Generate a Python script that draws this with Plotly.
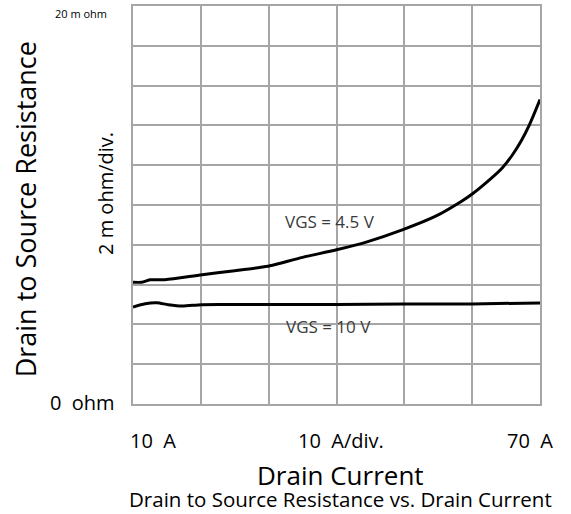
import plotly.graph_objects as go

# Drain current (A) and drain-source resistance (m ohm)
current_45 = [10.0, 11.3, 12.5, 14.7, 20.2, 25.0, 28.4, 30.2, 35.0, 40.0, 44.5, 49.7,
              54.7, 58.5, 60.0, 62.5, 64.4, 65.9, 67.2, 68.4, 70.0]
rds_45 = [6.12, 6.12, 6.24, 6.25, 6.5, 6.7, 6.85, 6.95, 7.37, 7.75, 8.15, 8.75,
          9.45, 10.2, 10.55, 11.25, 11.85, 12.5, 13.2, 14.0, 15.3]

current_10 = [10.0, 11.8, 13.5, 15.2, 17.2, 20.1, 23.5, 28.4, 40.0, 50.0, 60.0, 70.0]
rds_10 = [4.87, 5.04, 5.09, 4.99, 4.92, 4.99, 5.0, 5.0, 5.0, 5.02, 5.03, 5.08]

x_range = [10, 70]
y_range = [0, 20]
x_dtick = 10
y_dtick = 2

x_labels = ["10\u00a0\u00a0A", "10\u00a0\u00a0A/div.", "70\u00a0\u00a0A"]
y_top_label = "20 m ohm"
y_bottom_label = "0\u00a0\u00a0ohm"
y_div_label = "2 m ohm/div."
x_title = "Drain Current"
y_title = "Drain to Source Resistance"
caption = "Drain to Source Resistance vs. Drain Current"
curve_labels = ["VGS = 4.5 V", "VGS = 10 V"]

FONT = "Open Sans, Noto Sans, sans-serif"
GRID = "#a6a6a6"

fig = go.Figure()
fig.add_trace(go.Scatter(x=current_45, y=rds_45, mode="lines",
                         line=dict(color="black", width=3, shape="spline", smoothing=0.8),
                         showlegend=False))
fig.add_trace(go.Scatter(x=current_10, y=rds_10, mode="lines",
                         line=dict(color="black", width=3, shape="spline", smoothing=0.8),
                         showlegend=False))

fig.update_xaxes(range=x_range, dtick=x_dtick, showgrid=True, gridcolor=GRID, gridwidth=1.5,
                 showline=True, linecolor=GRID, linewidth=1.5, mirror=True,
                 showticklabels=False, zeroline=False, ticks="")
fig.update_yaxes(range=y_range, dtick=y_dtick, showgrid=True, gridcolor=GRID, gridwidth=1.5,
                 showline=True, linecolor=GRID, linewidth=1.5, mirror=True,
                 showticklabels=False, zeroline=False, ticks="")

ann = []
def A(text, x, y, size, ref="paper", angle=0, color="black"):
    ann.append(dict(text=text, x=x, y=y, xref=ref, yref=ref, showarrow=False,
                    xanchor="center", yanchor="middle", textangle=angle,
                    font=dict(family=FONT, size=size, color=color)))

# inside-plot curve labels (data coordinates)
A(curve_labels[0], 39.0, 9.15, 17, ref="x", color="#3a3a3a")
A(curve_labels[1], 38.8, 3.9, 17, ref="x", color="#3a3a3a")
for a in ann[-2:]:
    a["xref"] = "x"; a["yref"] = "y"

# axis labels (paper)
A(y_top_label, -0.128, 0.98, 11)
A(y_bottom_label, -0.123, 0.005, 20)
A(y_div_label, -0.069, 0.53, 20, angle=-90)
A(y_title, -0.262, 0.49, 27, angle=-90)
A(x_labels[0], 0.049, -0.0925, 20)
A(x_labels[1], 0.511, -0.0925, 20)
A(x_labels[2], 0.975, -0.0925, 20)
A(x_title, 0.509, -0.178, 26)
A(caption, 0.509, -0.238, 20.5)

fig.update_layout(width=571, height=514, margin=dict(l=133, r=31, t=4, b=110),
                  plot_bgcolor="white", paper_bgcolor="white", annotations=ann,
                  font=dict(family=FONT))

fig.write_html("out.html")
